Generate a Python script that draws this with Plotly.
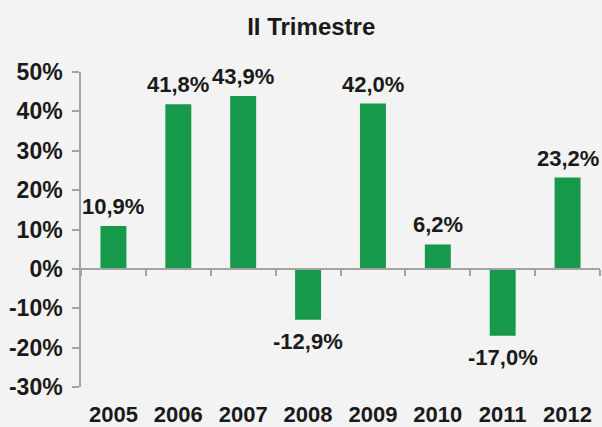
import plotly.graph_objects as go

years = ["2005", "2006", "2007", "2008", "2009", "2010", "2011", "2012"]
values = [10.9, 41.8, 43.9, -12.9, 42.0, 6.2, -17.0, 23.2]
labels = ["10,9%", "41,8%", "43,9%", "-12,9%", "42,0%", "6,2%", "-17,0%", "23,2%"]
y_ticks = [-30, -20, -10, 0, 10, 20, 30, 40, 50]
y_ticktext = ["-30%", "-20%", "-10%", "0%", "10%", "20%", "30%", "40%", "50%"]
title_text = "II Trimestre"

GREEN = "#16994a"
AXIS = "#a3a3a3"
BG = "#f3f3f3"
FONT = "Liberation Sans, Arial, sans-serif"
TXT = "#1a1a1a"
y_range = [-30, 50]

fig = go.Figure()
fig.add_trace(go.Bar(x=years, y=values, marker=dict(color=GREEN, line=dict(width=0)),
                     width=0.4, hoverinfo="skip"))
# invisible trace on the zero-line axis
fig.add_trace(go.Bar(x=years, y=[0] * len(years), xaxis="x2", marker=dict(color="rgba(0,0,0,0)"),
                     hoverinfo="skip", showlegend=False))

for i, (v, t) in enumerate(zip(values, labels)):
    fig.add_annotation(x=i, y=v, xref="x", yref="y", text=t, showarrow=False,
                       yanchor="bottom" if v >= 0 else "top",
                       yshift=5 if v >= 0 else -7,
                       font=dict(family=FONT, size=22, color=TXT, weight="bold"))

zero_pos = (0 - y_range[0]) / (y_range[1] - y_range[0])

fig.update_layout(
    width=602, height=427,
    paper_bgcolor=BG, plot_bgcolor=BG,
    margin=dict(l=81, r=2, t=72, b=40, autoexpand=False),
    showlegend=False,
    title=dict(text=title_text, x=0.517, xref="container", xanchor="center",
               y=1 - 27 / 427, yref="container", yanchor="middle",
               font=dict(family=FONT, size=24, color=TXT, weight="bold")),
    xaxis=dict(type="category", categoryorder="array", categoryarray=years,
               range=[-0.5, len(years) - 0.5], showline=False, ticks="",
               showgrid=False, zeroline=False, ticklabelstandoff=12, automargin=False,
               tickfont=dict(family=FONT, size=22, color=TXT, weight="bold")),
    xaxis2=dict(type="category", categoryorder="array", categoryarray=years,
                overlaying="x", anchor="free", position=zero_pos,
                range=[-0.5, len(years) - 0.5], showline=True, linecolor=AXIS, linewidth=1.5,
                ticks="outside", tickson="boundaries", ticklen=6, tickcolor=AXIS, tickwidth=1.5,
                showticklabels=False, showgrid=False, zeroline=False, automargin=False),
    yaxis=dict(range=y_range, tickvals=y_ticks, ticktext=y_ticktext,
               showline=True, linecolor=AXIS, linewidth=1.5, automargin=False,
               ticks="outside", ticklen=7, tickcolor=AXIS, tickwidth=1.5,
               showgrid=False, zeroline=False, ticklabelstandoff=5,
               tickfont=dict(family=FONT, size=23, color=TXT, weight="bold")),
    bargap=0.6,
)

fig.write_html("out.html", config={"displayModeBar": False},
               post_script="document.body.style.margin='0';document.body.style.background='%s';" % BG)
